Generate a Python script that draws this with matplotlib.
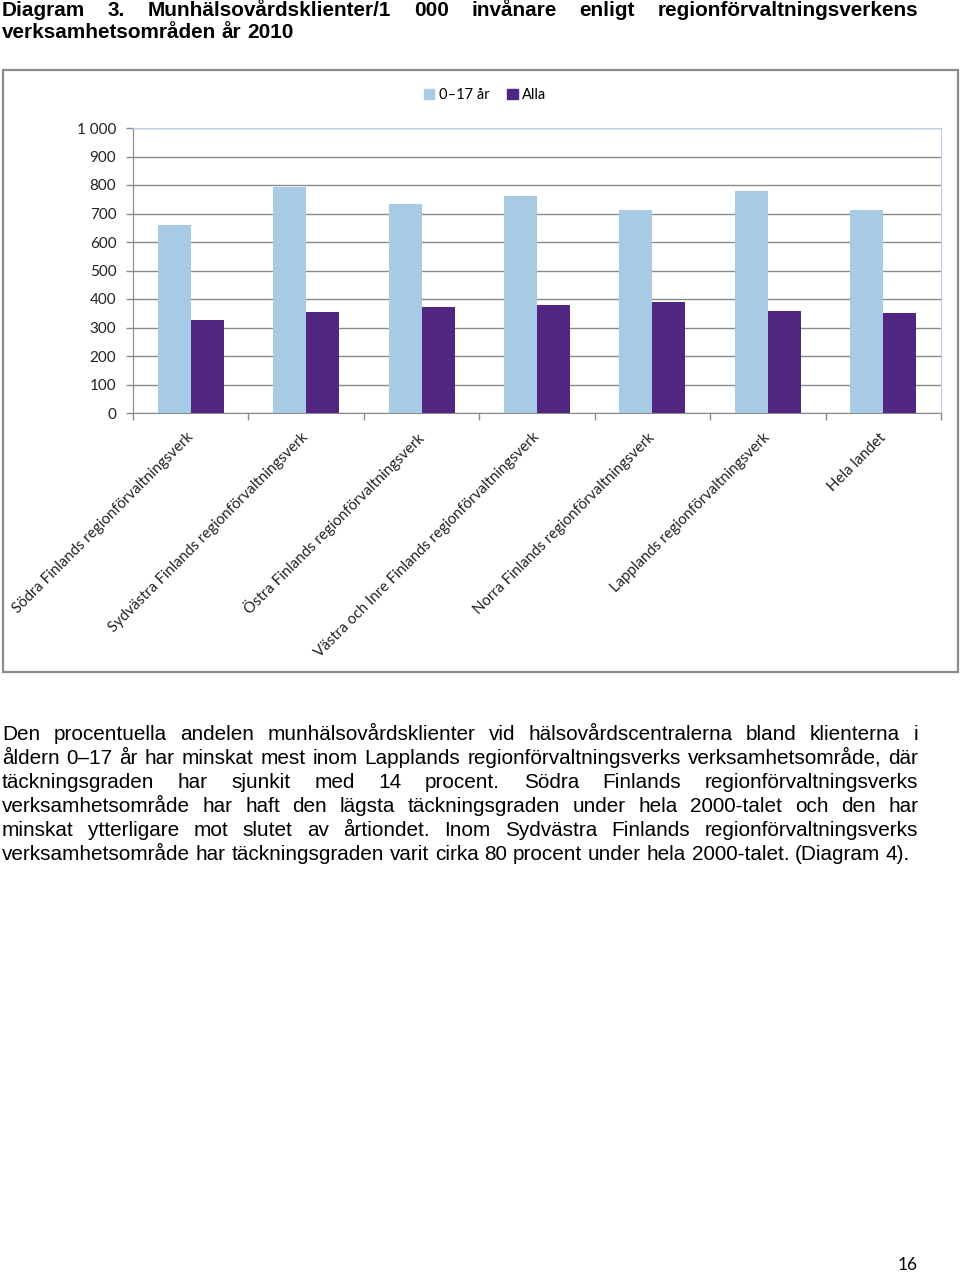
import matplotlib
matplotlib.use("Agg")
import matplotlib.pyplot as plt
import numpy as np
from matplotlib.patches import Patch, Rectangle
from matplotlib.transforms import IdentityTransform

# --- data ---
categories = [
    "Södra Finlands regionförvaltningsverk",
    "Sydvästra Finlands regionförvaltningsverk",
    "Östra Finlands regionförvaltningsverk",
    "Västra och Inre Finlands regionförvaltningsverk",
    "Norra Finlands regionförvaltningsverk",
    "Lapplands regionförvaltningsverk",
    "Hela landet",
]
series_names = ["0–17 år", "Alla"]
values_0_17 = [660, 794, 732, 761, 711, 779, 711]
values_alla = [326, 353, 373, 380, 389, 359, 350]
ytick_values = [0, 100, 200, 300, 400, 500, 600, 700, 800, 900, 1000]
ytick_labels = ["0", "100", "200", "300", "400", "500", "600", "700", "800", "900", "1 000"]

title_lines = [
    "Diagram 3. Munhälsovårdsklienter/1 000 invånare enligt regionförvaltningsverkens",
    "verksamhetsområden år 2010",
]
body_lines = [
    "Den procentuella andelen munhälsovårdsklienter vid hälsovårdscentralerna bland klienterna i",
    "åldern 0–17 år har minskat mest inom Lapplands regionförvaltningsverks verksamhetsområde, där",
    "täckningsgraden har sjunkit med 14 procent. Södra Finlands regionförvaltningsverks",
    "verksamhetsområde har haft den lägsta täckningsgraden under hela 2000-talet och den har",
    "minskat ytterligare mot slutet av årtiondet. Inom Sydvästra Finlands regionförvaltningsverks",
    "verksamhetsområde har täckningsgraden varit cirka 80 procent under hela 2000-talet. (Diagram 4).",
]
page_number = "16"

LIGHT = "#A8CBE5"
DARK = "#512683"
GRID = "#8a8a8a"
CHART_FONT = ["Lato", "DejaVu Sans"]
TEXT_FONT = ["Liberation Sans", "DejaVu Sans"]

W, H = 960, 1275
fig = plt.figure(figsize=(W / 100, H / 100), dpi=100)
renderer = fig.canvas.get_renderer()


def px(x, y_top):
    """pixel position measured from the top left -> display coords"""
    return x, H - y_top


def text_width(s, size, weight="normal"):
    t = fig.text(0, 0, s, fontsize=size, weight=weight, family=TEXT_FONT)
    w = t.get_window_extent(renderer).width
    t.remove()
    return w


def put_line(s, x0, x1, y_top, size, weight="normal", justify=True):
    words = s.split(" ")
    arts = [fig.text(0, 0, w, fontsize=size, weight=weight, family=TEXT_FONT,
                     transform=IdentityTransform(), va="center", ha="left")
            for w in words]
    widths = [a.get_window_extent(renderer).width for a in arts]
    if justify and len(words) > 1:
        gap = (x1 - x0 - sum(widths)) / (len(words) - 1)
    else:
        gap = text_width("x x", size, weight) - text_width("xx", size, weight)
    x = x0
    for a, w in zip(arts, widths):
        a.set_position(px(x, y_top))
        x += w + gap


# font size from the natural width of the last body line
size = 10 * 916 / text_width(body_lines[-1], 10)

# title
put_line(title_lines[0], 2, 918, 10, size, "bold", justify=True)
put_line(title_lines[1], 2, 918, 33, size, "bold", justify=False)

# body
for i, line in enumerate(body_lines):
    put_line(line, 2, 918, 734 + 24 * i, size, justify=i < len(body_lines) - 1)

fig.text(*px(908, 1265), page_number, transform=IdentityTransform(),
         ha="center", va="center", fontsize=12.5, family=CHART_FONT)

# chart frame
fig.add_artist(Rectangle(px(3, 672), 955, 602, transform=IdentityTransform(),
                         fill=False, edgecolor="#8c8c8c", lw=1.6))

# --- chart ---
ax = fig.add_axes([133 / W, 1 - 413 / H, 808 / W, 285 / H])
x = np.arange(len(categories))
bw = 0.286
ax.bar(x - bw / 2, values_0_17, bw, color=LIGHT, zorder=3)
ax.bar(x + bw / 2, values_alla, bw, color=DARK, zorder=3)

ax.set_xlim(-0.5, len(categories) - 0.5)
ax.set_ylim(0, 1000)
ax.set_yticks(ytick_values)
ax.set_yticklabels(ytick_labels, family=CHART_FONT, fontsize=11, color="#222222")
ax.yaxis.grid(True, color=GRID, lw=1, zorder=0)
ax.tick_params(axis="y", length=5, width=1, color=GRID, pad=7)

ax.set_xticks(x)
ax.set_xticklabels(categories, rotation=45, ha="right", va="center",
                   rotation_mode="anchor", family=CHART_FONT, fontsize=10.8,
                   color="#222222")
ax.tick_params(axis="x", which="major", length=0, pad=16)
ax.set_xticks(np.arange(-0.5, len(categories)), minor=True)
ax.tick_params(axis="x", which="minor", length=5, width=1, color=GRID)

for side in ["top", "right"]:
    ax.spines[side].set_color("#b9cde4")
for side in ["left", "bottom"]:
    ax.spines[side].set_color(GRID)

handles = [Patch(color=LIGHT), Patch(color=DARK)]
fig.legend(handles, series_names, loc="center", bbox_to_anchor=(485 / W, 1 - 95 / H),
           ncol=2, frameon=False, handlelength=0.75, handleheight=0.75,
           handletextpad=0.3, columnspacing=1.2, prop={"family": CHART_FONT, "size": 10.5})

fig.savefig("out.png", dpi=100)
